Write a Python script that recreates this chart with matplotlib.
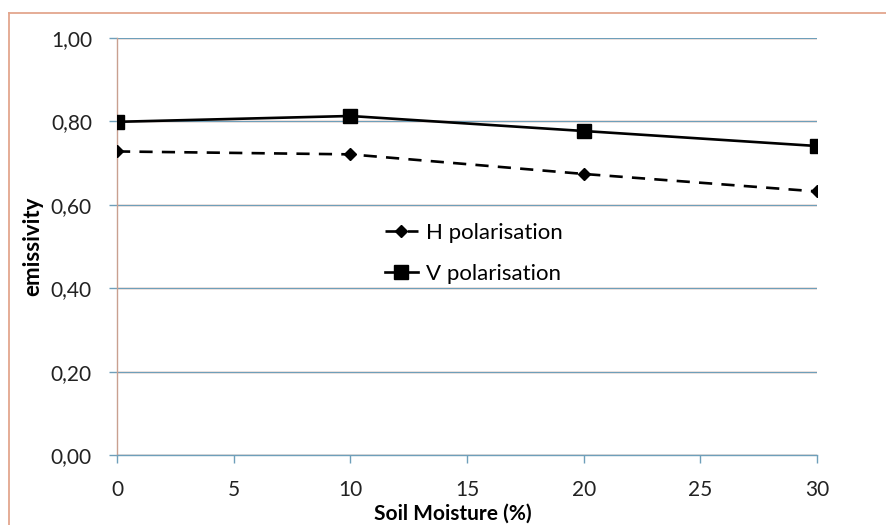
import matplotlib
matplotlib.use("Agg")
import matplotlib.pyplot as plt
from matplotlib.lines import Line2D
from matplotlib.ticker import FixedLocator, FuncFormatter

plt.rcParams['font.family'] = ['Lato', 'DejaVu Sans']

soil_moisture = [0, 10, 20, 30]
h_pol = [0.728, 0.721, 0.674, 0.632]
v_pol = [0.799, 0.813, 0.777, 0.741]
y_ticks = [0.0, 0.2, 0.4, 0.6, 0.8, 1.0]
x_ticks = [0, 5, 10, 15, 20, 25, 30]

fig = plt.figure(figsize=(8.87, 5.25), dpi=100)
ax = fig.add_axes([0.1319, 0.1333, 0.7892, 0.7943])

blue = '#6e9fba'
orange = '#e9a58a'
for y in y_ticks:
    ax.axhline(y, color=orange, lw=1.8, zorder=0.5, alpha=0.3)
    ax.axhline(y, color=blue, lw=0.9, zorder=0.6)

ax.plot(soil_moisture, h_pol, color='black', lw=1.9, linestyle=(0, (5, 3.5)),
        marker='D', markersize=6, label='H polarisation', zorder=3)
ax.plot(soil_moisture, v_pol, color='black', lw=1.9, linestyle='-',
        marker='s', markersize=9.5, label='V polarisation', zorder=3)

ax.set_xlim(0, 30)
ax.set_ylim(0, 1.0)
ax.xaxis.set_major_locator(FixedLocator(x_ticks))
ax.yaxis.set_major_locator(FixedLocator(y_ticks))
ax.yaxis.set_major_formatter(FuncFormatter(lambda v, p: f"{v:.2f}".replace('.', ',')))

for s in ['top', 'right']:
    ax.spines[s].set_visible(False)
ax.spines['left'].set_color('#c9a090')
ax.spines['left'].set_linewidth(1.0)
ax.spines['bottom'].set_color(blue)
ax.spines['bottom'].set_linewidth(1.0)
ax.tick_params(axis='y', direction='out', length=6, width=1, color=blue,
               pad=12, labelsize=15, labelcolor='#222222')
ax.tick_params(axis='x', direction='out', length=6, width=1, color=blue,
               pad=12, labelsize=15, labelcolor='#222222')

ax.set_ylabel('emissivity', fontsize=16, fontweight='bold')
ax.yaxis.set_label_coords(-0.105, 0.5)
ax.set_xlabel('Soil Moisture (%)', fontsize=15, fontweight='bold')
ax.xaxis.set_label_coords(0.48, -0.117)

leg = ax.legend(loc='upper left', bbox_to_anchor=(0.354, 0.605), frameon=False,
                fontsize=16, handlelength=1.5, handletextpad=0.35, labelspacing=0.95)

# outer border (left and top visible)
fig.add_artist(Line2D([9/887, 9/887], [0, 1 - 13/525], transform=fig.transFigure,
                      color='#e3a68e', lw=1.3))
fig.add_artist(Line2D([9/887, 1], [1 - 13/525, 1 - 13/525], transform=fig.transFigure,
                      color='#e3a68e', lw=1.3))

fig.savefig('out.png', dpi=100)
